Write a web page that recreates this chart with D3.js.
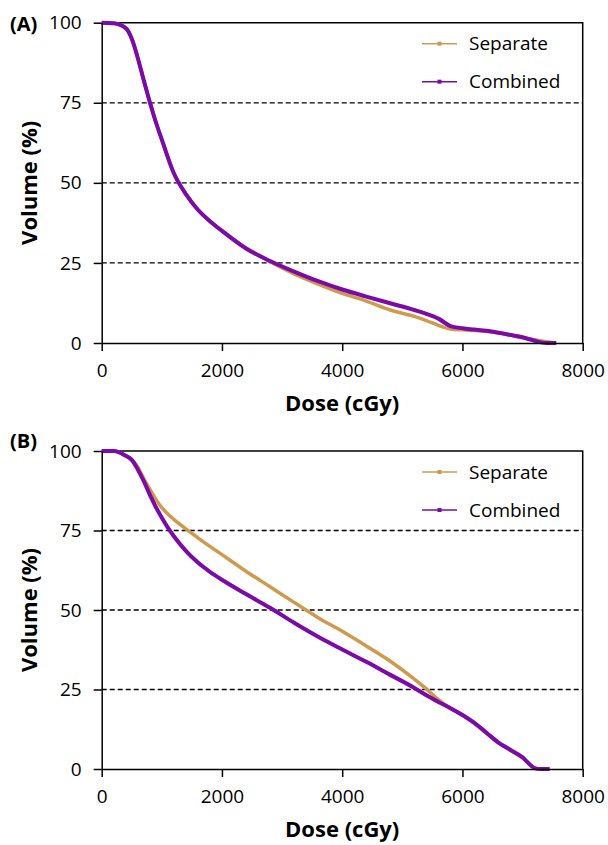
<!DOCTYPE html>
<html>
<head>
<meta charset="utf-8">
<script src="https://cdn.jsdelivr.net/npm/d3@7"></script>
<style>
body { margin: 0; background: #fff; }
svg { display: block; font-family: "Open Sans", sans-serif; }
</style>
</head>
<body>
<div id="chart"></div>
<script>
"use strict";

// legend / series
const seriesNames = ["Separate", "Combined"];
const xTicks = [0, 2000, 4000, 6000, 8000];
const yTicks = [0, 25, 50, 75, 100];
const gridValues = [25, 50, 75];

// (A) dose in cGy, volume in %
const doseA = [0, 200, 400, 500, 600, 700, 800, 900, 1000, 1200, 1400, 1600, 1800, 2000, 2400, 2800, 3200, 3600, 4000, 4400, 4800, 5200, 5400, 5600, 5800, 6000, 6200, 6400, 6600, 6800, 7000, 7200, 7400, 7560];
const separateA = [100, 99.8, 98.3, 95, 89, 82, 75.2, 69, 63.5, 53, 46.5, 41.6, 38.1, 35.1, 29.7, 25.4, 21.6, 18.4, 15.5, 13.1, 10.3, 8.3, 7.0, 5.5, 4.4, 4.1, 3.9, 3.6, 3.1, 2.5, 1.6, 1.0, 0.4, 0];
const combinedA = [100, 99.8, 98.3, 95, 89, 82, 75.2, 69, 63.5, 53, 46.5, 41.6, 38, 35, 29.5, 25.6, 22.3, 19.3, 16.7, 14.5, 12.4, 10.3, 9.1, 7.6, 5.3, 4.6, 4.2, 3.8, 3.2, 2.5, 1.8, 0.7, 0, 0];

// (B)
const doseB = [0, 200, 400, 500, 600, 700, 800, 900, 1000, 1100, 1200, 1400, 1600, 1800, 2000, 2400, 2800, 3200, 3600, 4000, 4400, 4800, 5200, 5400, 5600, 5800, 6000, 6200, 6400, 6600, 6800, 7000, 7200, 7300, 7450];
const separateB = [100, 100, 98.5, 97.2, 95, 91.3, 88, 84.8, 82.2, 80.2, 78.5, 75.5, 72.7, 70, 67.4, 62.2, 57.3, 52.4, 47.6, 43.3, 38.7, 33.9, 28.3, 25.2, 21.8, 19, 17, 14.3, 11.2, 8.2, 5.8, 3.4, 0.3, 0, 0];
const combinedB = [100, 100, 98.5, 97.2, 94.2, 90.5, 86.3, 82.4, 79, 75.9, 73.2, 68.6, 64.9, 62, 59.5, 55, 50.7, 46, 41.6, 37.6, 33.7, 29.6, 25.5, 23.2, 21.1, 19.1, 17, 14.5, 11.4, 8.3, 6, 3.7, 0.3, 0, 0];

const colors = ["#D09A4E", "#7B0AA8"];
const lineWidths = [3.5, 4];

const width = 608;
const height = 845;
const plotLeft = 101.7;
const plotRight = 582.7;

const panels = [
    { label: "(A)", top: 22.7, bottom: 343, labelY: 24, dose: doseA, series: [separateA, combinedA] },
    { label: "(B)", top: 451, bottom: 769, labelY: 441, dose: doseB, series: [separateB, combinedB] }
];

const svg = d3.select("#chart")
    .append("svg")
    .attr("width", width)
    .attr("height", height);

const xScale = d3.scaleLinear()
    .domain([0, 8000])
    .range([plotLeft, plotRight]);

panels.forEach(p => drawPanel(p));

function drawPanel(panel) {
    const g = svg.append("g");

    const yScale = d3.scaleLinear()
        .domain([0, 100])
        .range([panel.bottom, panel.top]);

    // dashed gridlines
    g.selectAll(".grid")
        .data(gridValues)
        .enter().append("line")
        .attr("x1", plotLeft)
        .attr("x2", plotRight)
        .attr("y1", d => yScale(d))
        .attr("y2", d => yScale(d))
        .attr("stroke", "#000")
        .attr("stroke-width", 1.3)
        .attr("stroke-dasharray", "5,3");

    // top and right frame
    g.append("path")
        .attr("d", `M${plotLeft},${panel.top}H${plotRight}V${panel.bottom}`)
        .attr("fill", "none")
        .attr("stroke", "#000")
        .attr("stroke-width", 1.5);

    // curves, Separate first so Combined sits on top
    const line = d3.line()
        .x(d => xScale(d[0]))
        .y(d => yScale(d[1]))
        .curve(d3.curveMonotoneX);

    panel.series.forEach((vals, i) => {
        g.append("path")
            .datum(panel.dose.map((d, j) => [d, vals[j]]))
            .attr("fill", "none")
            .attr("stroke", colors[i])
            .attr("stroke-width", lineWidths[i])
            .attr("stroke-linejoin", "round")
            .attr("d", line);
    });

    // axes
    const xAxis = g.append("g")
        .attr("transform", "translate(0," + panel.bottom + ")")
        .call(d3.axisBottom(xScale).tickValues(xTicks).tickFormat(d3.format("d")).tickSize(8).tickSizeOuter(0).tickPadding(13));

    const yAxis = g.append("g")
        .attr("transform", "translate(" + plotLeft + ",0)")
        .call(d3.axisLeft(yScale).tickValues(yTicks).tickSize(8).tickSizeOuter(0).tickPadding(12));

    [xAxis, yAxis].forEach(a => {
        a.select(".domain").attr("stroke", "#000").attr("stroke-width", 1.5);
        a.selectAll(".tick line").attr("stroke", "#000").attr("stroke-width", 1.5);
        a.selectAll(".tick text")
            .attr("fill", "#000")
            .style("font-size", "19px")
            .style("font-family", "'Open Sans', sans-serif");
    });

    // axis titles
    g.append("text")
        .attr("x", (plotLeft + plotRight) / 2)
        .attr("y", panel.bottom + 68)
        .attr("text-anchor", "middle")
        .style("font-size", "22px")
        .style("font-weight", "bold")
        .text("Dose (cGy)");

    g.append("text")
        .attr("transform", `translate(37,${(panel.top + panel.bottom) / 2}) rotate(-90)`)
        .attr("text-anchor", "middle")
        .style("font-size", "22px")
        .style("font-weight", "bold")
        .text("Volume (%)");

    // panel label
    g.append("text")
        .attr("x", 10)
        .attr("y", panel.labelY)
        .attr("dy", "0.35em")
        .style("font-size", "20px")
        .style("font-weight", "bold")
        .text(panel.label);

    // legend
    const legend = g.selectAll(".legend")
        .data(seriesNames)
        .enter().append("g")
        .attr("transform", (d, i) => "translate(0," + (panel.top + 21 + i * 38) + ")");

    legend.append("line")
        .attr("x1", 422)
        .attr("x2", 457)
        .attr("stroke", (d, i) => colors[i])
        .attr("stroke-width", 1.6);

    legend.append("rect")
        .attr("x", 437.5)
        .attr("y", -2)
        .attr("width", 4)
        .attr("height", 4)
        .attr("fill", (d, i) => colors[i]);

    legend.append("text")
        .attr("x", 469)
        .attr("dy", "0.35em")
        .style("font-size", "19px")
        .text(d => d);
}
</script>
</body>
</html>
